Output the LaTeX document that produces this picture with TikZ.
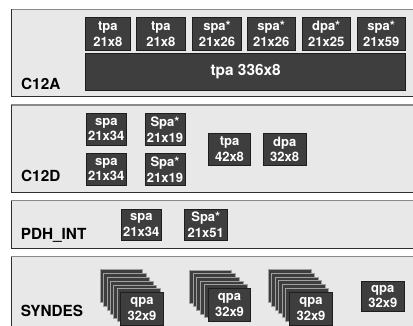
\documentclass[tikz,border=0pt]{standalone}
\usepackage{fontspec}
\setmainfont{TeX Gyre Heros}
\definecolor{panelgray}{HTML}{E8E8E8}
\definecolor{paneltop}{HTML}{8A8A8A}
\definecolor{paneledge}{HTML}{2E2E2E}
\definecolor{boxgray}{HTML}{3E3E3E}
\definecolor{boxedge}{HTML}{1E1E1E}
\definecolor{layeredge}{HTML}{A0A0A0}
\newcommand{\boxfont}{\fontsize{13}{15.5}\selectfont\bfseries}
\newcommand{\bigfont}{\fontsize{15.4}{17}\selectfont\bfseries}
\newcommand{\lblfont}{\fontsize{15.3}{17}\selectfont\bfseries}
\tikzset{
  panelbg/.style={fill=panelgray, draw=none},
  paneltopline/.style={draw=paneltop, line width=1.2pt},
  paneledgeline/.style={draw=paneledge, line width=1pt},
  pbox/.style={fill=boxgray, draw=boxedge, line width=0.8pt, text=white,
    font=\boxfont, align=center, inner sep=0pt, minimum height=33pt},
  layer/.style={fill=boxgray, draw=layeredge, line width=0.7pt},
  lbl/.style={font=\lblfont, anchor=base west, inner sep=0pt, text=black},
}
\newcommand{\drawpanel}[2]{%
  \fill[panelbg] (11,#1) rectangle (420,#2);
  \draw[paneltopline] (11,#1) -- (420,#1);
  \draw[paneledgeline] (11,#1) -- (11,#2) -- (420,#2);
}
\newcommand{\drawstack}[6]{% x0, y0, dx, dy, count-1, name prefix
  \foreach \i in {0,...,#5} {
    \draw[layer] ({#1+\i*#3},{#2+\i*#4}) rectangle ++(42.6,33);
  }
}
\begin{document}
\begin{tikzpicture}[x=1pt,y=-1pt]
\useasboundingbox (0,0) rectangle (413,326);
\clip (0,0) rectangle (413,326);
\fill[white] (0,0) rectangle (413,326);

% panels
\drawpanel{9.5}{97}
\drawpanel{105}{192.7}
\drawpanel{200.7}{249}
\drawpanel{256.7}{332}

% C12A
\node[lbl] (lA) at (21,89.3) {C12A};
\node[pbox, minimum width=44.3pt, minimum height=33.4pt] (a1) at (107.9,34) {tpa\\21x8};
\node[pbox, minimum width=48.3pt, minimum height=33.4pt] (a2) at (160.8,34) {tpa\\21x8};
\node[pbox, minimum width=49.4pt, minimum height=33.4pt] (a3) at (217,34) {spa*\\21x26};
\node[pbox, minimum width=47.7pt, minimum height=33.4pt] (a4) at (271.2,34) {spa*\\21x26};
\node[pbox, minimum width=47.7pt, minimum height=33.4pt] (a5) at (326.2,34) {dpa*\\21x25};
\node[pbox, minimum width=47.7pt, minimum height=33.4pt] (a6) at (381.2,34) {spa*\\21x59};
\node[pbox, font=\bigfont, minimum width=320pt, minimum height=37.4pt] (abig) at (245.7,72) {tpa 336x8};

% C12D
\node[lbl] (lD) at (21,181.7) {C12D};
\node[pbox, minimum width=40.7pt, minimum height=32.4pt] (d1) at (106.3,129.5) {spa\\21x34};
\node[pbox, minimum width=40pt, minimum height=32.4pt] (d2) at (165,129.5) {Spa*\\21x19};
\node[pbox, minimum width=40.7pt, minimum height=32.4pt] (d3) at (106.3,169.5) {spa\\21x34};
\node[pbox, minimum width=40pt, minimum height=32.4pt] (d4) at (165,169.5) {Spa*\\21x19};
\node[pbox, minimum width=42.4pt, minimum height=32pt] (d5) at (229.5,149.3) {tpa\\42x8};
\node[pbox, minimum width=42.7pt, minimum height=32pt] (d6) at (284.7,149.3) {dpa\\32x8};

% PDH_INT
\node[lbl] (lP) at (20.7,240) {PDH\_INT};
\node[pbox, minimum width=40.7pt, minimum height=31.7pt] (p1) at (141.3,224.8) {spa\\21x34};
\node[pbox, minimum width=43pt, minimum height=31.7pt] (p2) at (205.8,224.8) {Spa*\\21x51};

% SYNDES
\node[lbl] (lS) at (20.7,316.7) {SYNDES};
\drawstack{100}{269.3}{3.45}{3.9}{5}{s1}
\node[pbox, minimum width=42.6pt] (s1) at (142,309.2) {qpa\\32x9};
\drawstack{189}{270}{3.86}{3.66}{4}{s2}
\node[pbox, minimum width=42.4pt] (s2) at (229.5,304.8) {qpa\\32x9};
\drawstack{268.3}{269}{3.5}{3.95}{5}{s3}
\node[pbox, minimum width=43.4pt] (s3) at (311,309.2) {qpa\\32x9};
\node[pbox, minimum width=42.3pt, minimum height=30pt] (s4) at (382.8,296.7) {qpa\\32x9};
\end{tikzpicture}
\end{document}
